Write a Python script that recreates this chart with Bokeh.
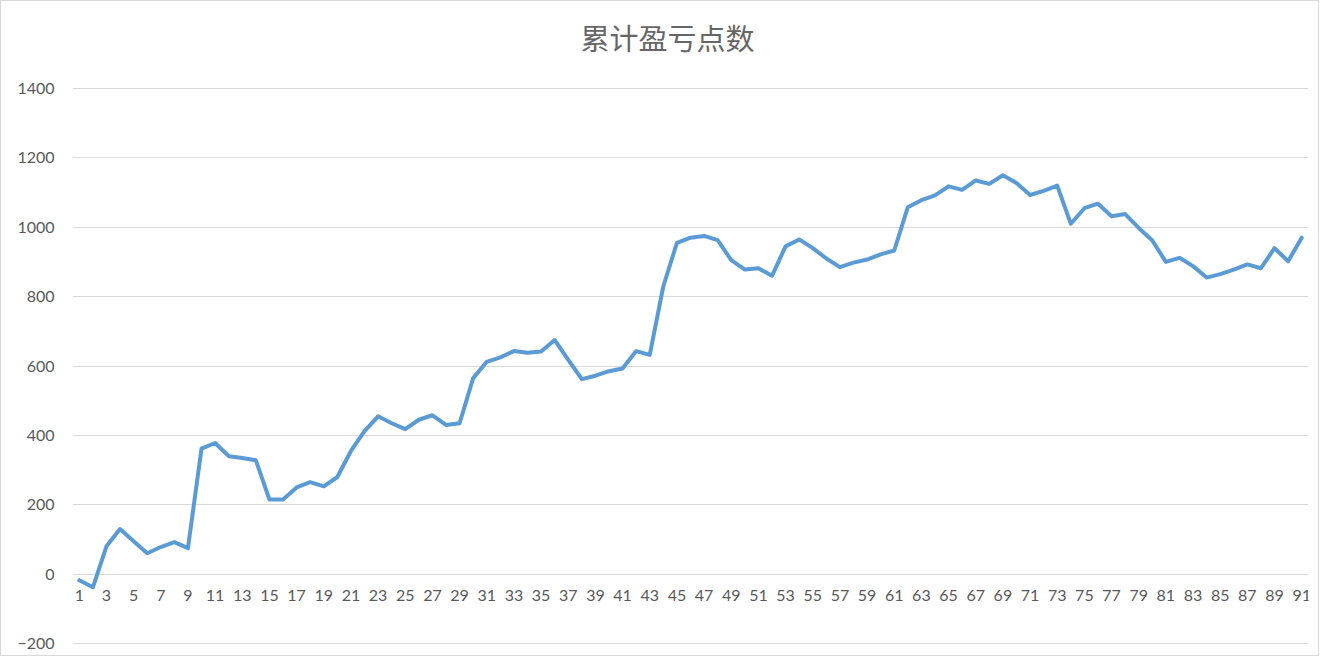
import numpy as np
from bokeh.embed import file_html
from bokeh.models import ColumnDataSource, FixedTicker, Label, Range1d
from bokeh.plotting import figure
from bokeh.resources import INLINE

TITLE = "累计盈亏点数"

# trade index 1..91 and cumulative points
trade_no = list(range(1, 92))
cum_points = [
    -18, -38, 80, 130, 95, 60, 78, 92, 75, 362,
    378, 340, 335, 328, 215, 215, 250, 265, 253, 280,
    355, 412, 455, 435, 418, 445, 458, 430, 435, 565,
    612, 625, 643, 638, 642, 675, 618, 562, 572, 585,
    593, 643, 632, 830, 955, 970, 975, 963, 905, 878,
    882, 860, 945, 965, 940, 910, 885, 898, 907, 922,
    933, 1058, 1078, 1092, 1118, 1108, 1135, 1125, 1150, 1128,
    1093, 1105, 1120, 1010, 1055, 1068, 1032, 1038, 998, 962,
    900, 912, 888, 855, 865, 878, 893, 882, 940, 902,
    970,
]
x_ticks = list(range(1, 92, 2))
y_ticks = list(range(-200, 1401, 200))

LINE_COLOR = "#5B9BD5"
TEXT_COLOR = "#595959"
GRID_COLOR = "#D9D9D9"
TICK_FONT = "Lato"

source = ColumnDataSource(data=dict(x=trade_no, y=cum_points))

# the frame reaches the top edge so the title can sit inside it;
# ticks/grid stop at 1400 so the extra headroom stays empty
p = figure(
    width=1319, height=656,
    x_range=Range1d(0.5, 91.5), y_range=Range1d(-203, 1651),
    output_backend="svg", toolbar_location=None,
    min_border_left=71, min_border_right=12,
    min_border_top=0, min_border_bottom=13,
)
p.styles = {"border": "1px solid #D9D9D9", "box-sizing": "border-box"}
p.outline_line_color = None

title = Label(
    x=508, y=608, x_units="screen", y_units="screen",
    text=TITLE, text_align="left", text_baseline="middle",
    text_font="Noto Sans CJK SC", text_font_size="29px",
    text_color="#666666",
)
p.add_layout(title)

p.line("x", "y", source=source, line_color=LINE_COLOR, line_width=4,
       line_join="round", line_cap="round")

# x axis sits on the zero line, like Excel's category axis
p.xaxis.fixed_location = 0
p.xaxis.ticker = FixedTicker(ticks=x_ticks)
p.xaxis.axis_line_color = None
p.xaxis.major_tick_line_color = None
p.xaxis.minor_tick_line_color = None
p.xaxis.major_label_standoff = 10
p.xaxis.major_label_text_font = TICK_FONT
p.xaxis.major_label_text_font_size = "16px"
p.xaxis.major_label_text_color = TEXT_COLOR

p.yaxis.ticker = FixedTicker(ticks=y_ticks)
p.yaxis.axis_line_color = None
p.yaxis.major_tick_line_color = None
p.yaxis.minor_tick_line_color = None
p.yaxis.major_label_standoff = 12
p.yaxis.major_label_text_font = TICK_FONT
p.yaxis.major_label_text_font_size = "16px"
p.yaxis.major_label_text_color = TEXT_COLOR

p.xgrid.grid_line_color = None
p.ygrid.ticker = FixedTicker(ticks=y_ticks)
p.ygrid.grid_line_color = GRID_COLOR
p.ygrid.grid_line_width = 1

open("out.html", "w").write(file_html(p, INLINE))
